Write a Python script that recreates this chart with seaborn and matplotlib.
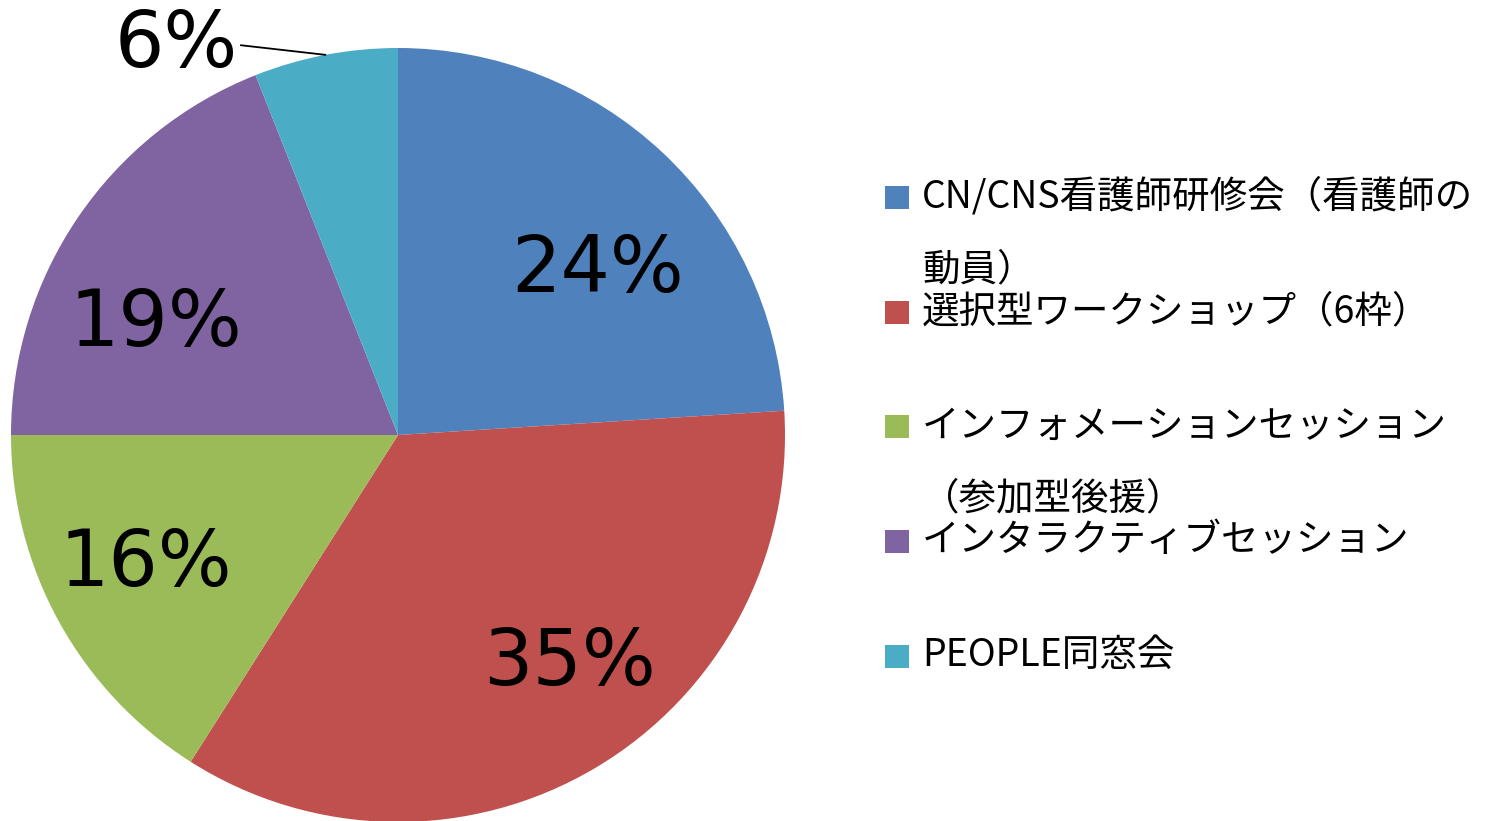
import numpy as np
import seaborn as sns
import matplotlib.pyplot as plt
from matplotlib.patches import Rectangle
from matplotlib.transforms import ScaledTranslation

# data
categories = [
    "CN/CNS看護師研修会（看護師の\n動員）",
    "選択型ワークショップ（6枠）",
    "インフォメーションセッション\n（参加型後援）",
    "インタラクティブセッション",
    "PEOPLE同窓会",
]
shares = [24, 35, 16, 19, 6]
colors = ["#4F81BD", "#C0504D", "#9BBB59", "#8064A2", "#4BACC6"]

sns.set_theme(style="white")
plt.rcParams["font.family"] = ["Noto Sans CJK JP", "DejaVu Sans"]

W, H = 1493, 821
fig = plt.figure(figsize=(W / 100, H / 100), dpi=100)

# pie axes: centre (398, 435) px, radius 387 px
cx, cy, r = 398, 435, 387
ax = fig.add_axes([(cx - r) / W, (H - cy - r) / H, 2 * r / W, 2 * r / H])

wedges, texts, autotexts = ax.pie(
    shares, colors=colors, startangle=90, counterclock=False,
    autopct="%.0f%%", pctdistance=0.70,
    wedgeprops=dict(linewidth=0),
    textprops=dict(fontsize=56, family="DejaVu Sans", color="black"),
)
ax.set_xlim(-1, 1)
ax.set_ylim(-1, 1)

# Excel's "best fit" puts the labels a bit off the mid angle (pixel nudges)
nudges = [(14, -32), (34, 5), (-15, 2), (-18, -41), (0, 0)]
for t, (dx, dy) in zip(autotexts, nudges):
    t.set_transform(ax.transData + ScaledTranslation(dx / 100, dy / 100, fig.dpi_scale_trans))

# small slice: label outside with a leader line
small = int(np.argmin(shares))
autotexts[small].set_visible(False)
w = wedges[small]
mid = np.deg2rad((w.theta1 + w.theta2) / 2)
ax.annotate(
    autotexts[small].get_text(), xy=(np.cos(mid), np.sin(mid)),
    xytext=(-88, 10), textcoords="offset pixels",
    ha="right", va="center", fontsize=56, family="DejaVu Sans", color="black",
    arrowprops=dict(arrowstyle="-", color="black", lw=1.3,
                    relpos=(1, 0.5), shrinkA=0, shrinkB=0),
    annotation_clip=False,
)

# legend (Excel style: marker aligned with the first text line)
lx, tx = 885, 922
top, pitch, line_pitch = 198, 114.5, 72
for i, (label, col) in enumerate(zip(categories, colors)):
    y = top + i * pitch
    fig.add_artist(Rectangle((lx / W, (H - y - 11.5) / H), 24 / W, 23 / H,
                             transform=fig.transFigure, color=col, lw=0))
    for j, line in enumerate(label.split("\n")):
        fig.text(tx / W, (H - (y - 5) - j * line_pitch) / H, line,
                 fontsize=27, va="center_baseline", ha="left", color="black")

fig.savefig("out.png", dpi=100)
